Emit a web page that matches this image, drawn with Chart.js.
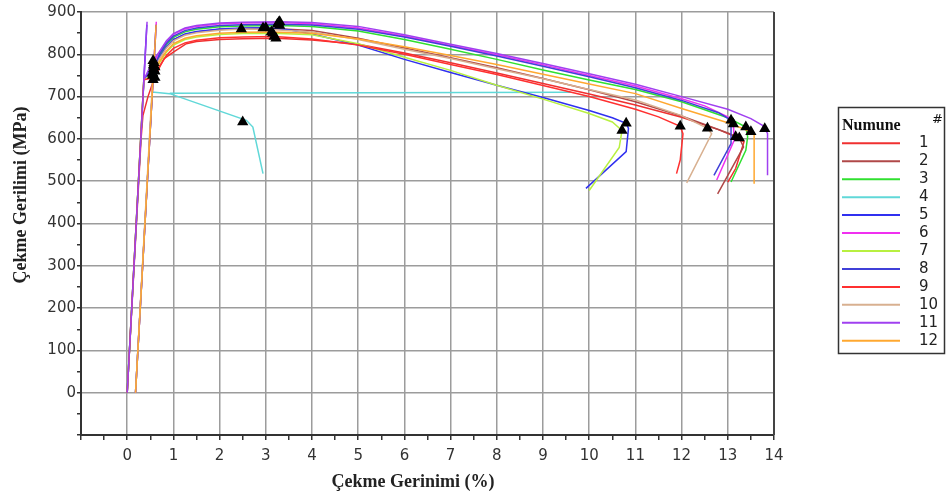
<!DOCTYPE html>
<html lang="tr">
<head>
  <meta charset="UTF-8">
  <title>Çekme Eğrileri</title>
  <script src="https://cdn.jsdelivr.net/npm/chart.js"></script>
  <style>
    body { margin: 0; padding: 0; background: #ffffff; }
    canvas { display: block; }
  </style>
</head>
<body>
  <canvas id="tensileChart" width="946" height="495"></canvas>

  <script>
    // Numune labels and colours
    const sampleLabels = ['1', '2', '3', '4', '5', '6', '7', '8', '9', '10', '11', '12'];
    const sampleColors = ['#f03030', '#b04848', '#30e030', '#60d8d8', '#3030f0', '#f030f0',
                          '#b8f040', '#4040d8', '#ff3030', '#d8b090', '#a040f0', '#ffa830'];

    // Strain (%) / stress (MPa), one pair per sample
    const strain1 = [0, 0.3, 0.34, 0.45, 0.56, 0.63, 0.8, 1.0, 1.28, 1.5, 2.0, 2.5, 3.22, 4, 5, 6, 7, 8, 9, 10, 11, 12, 12.8, 13.17, 13.35, 13.17, 13.0];
    const stress1 = [0, 600, 655, 700, 735, 755, 790, 805, 825, 830, 835, 837, 838, 834, 824, 803, 780, 756, 731, 706, 680, 651, 622, 605, 593, 530, 498];

    const strain2 = [0.18, 0.56, 0.57, 0.7, 0.85, 1.0, 1.25, 1.5, 2.0, 2.5, 2.94, 4, 5, 6, 7, 8, 9, 10, 11, 12, 13, 13.25, 13.34, 12.78];
    const stress2 = [0, 745, 765, 792, 817, 834, 847, 853, 859, 861, 862, 856, 838, 815, 792, 768, 743, 716, 688, 654, 614, 602, 581, 470];

    const strain3 = [0, 0.36, 0.57, 0.7, 0.85, 1.0, 1.25, 1.5, 2.0, 2.5, 3.3, 4, 5, 6, 7, 8, 9, 10, 11, 12, 13, 13.39, 13.43, 13.39, 13.07];
    const stress3 = [0, 740, 775, 798, 823, 840, 853, 859, 865, 867, 868, 866, 855, 835, 812, 788, 763, 739, 717, 688, 650, 628, 605, 573, 498];

    // sample 4 broke early; the flat part at ~710 MPa is a separate run of points
    const strain4 = [0.18, 0.544, 0.59, 0.92, 2.58, 2.72, 2.94, 2.94, 0.92, 9.6];
    const stress4 = [0, 710, 710, 707, 644, 628, 518, null, 708, 710];

    const strain5 = [0, 0.425, 0.36, 0.58, 0.7, 0.85, 1.0, 1.25, 1.5, 2.0, 2.5, 3.0, 3.5, 4, 5, 6, 7, 8, 9, 10, 10.5, 10.8, 10.85, 10.8, 9.93];
    const stress5 = [0, 870, 740, 772, 793, 818, 835, 848, 854, 860, 862, 863, 858, 848, 822, 788, 757, 727, 698, 667, 650, 637, 625, 570, 483];

    const strain6 = [0.18, 0.63, 0.56, 0.58, 0.7, 0.85, 1.0, 1.25, 1.5, 2.0, 2.5, 3.28, 4, 5, 6, 7, 8, 9, 10, 11, 12, 12.5, 13.0, 13.12, 13.14, 12.76];
    const stress6 = [0, 877, 745, 780, 805, 830, 847, 860, 866, 872, 874, 875, 872, 862, 843, 821, 799, 775, 750, 725, 695, 678, 652, 635, 597, 503];

    const strain7 = [0, 0.36, 0.55, 0.7, 0.85, 1.0, 1.25, 1.5, 2.0, 2.5, 3.15, 4, 5, 6, 7, 8, 9, 10, 10.5, 10.71, 10.65, 10.0];
    const stress7 = [0, 740, 750, 780, 805, 822, 835, 841, 847, 849, 850, 846, 825, 793, 762, 727, 694, 660, 640, 620, 580, 478];

    const strain8 = [0.18, 0.626, 0.56, 0.6, 0.7, 0.85, 1.0, 1.25, 1.5, 2.0, 2.5, 3.25, 4, 5, 6, 7, 8, 9, 10, 11, 12, 12.8, 13.07, 13.07, 12.7];
    const stress8 = [0, 870, 745, 770, 801, 826, 843, 856, 862, 868, 870, 871, 869, 859, 841, 819, 796, 772, 747, 721, 691, 662, 644, 589, 514];

    const strain9 = [0, 0.36, 0.6, 0.7, 0.85, 1.0, 1.25, 1.5, 2.0, 2.5, 3.18, 4, 5, 6, 7, 8, 9, 10, 11, 11.5, 11.97, 12.03, 11.97, 11.89];
    const stress9 = [0, 740, 745, 772, 797, 814, 827, 833, 839, 841, 842, 836, 822, 800, 776, 752, 726, 700, 670, 652, 630, 612, 550, 518];

    const strain10 = [0.18, 0.55, 0.55, 0.7, 0.85, 1.0, 1.25, 1.5, 2.0, 2.47, 3.0, 4, 5, 6, 7, 8, 9, 10, 11, 12, 12.56, 12.65, 12.11];
    const stress10 = [0, 740, 755, 790, 815, 832, 845, 851, 857, 860, 859, 853, 835, 812, 790, 766, 742, 717, 692, 655, 625, 612, 496];

    const strain11 = [0, 0.43, 0.36, 0.56, 0.7, 0.85, 1.0, 1.25, 1.5, 2.0, 2.5, 3.3, 4, 5, 6, 7, 8, 9, 10, 11, 12, 13, 13.5, 13.75, 13.8, 13.86, 13.86];
    const stress11 = [0, 877, 740, 785, 807, 832, 849, 862, 868, 874, 876, 877, 875, 866, 846, 824, 802, 778, 754, 729, 700, 670, 648, 632, 624, 613, 514];

    const strain12 = [0.18, 0.626, 0.56, 0.6, 0.7, 0.85, 1.0, 1.25, 1.5, 2.0, 2.5, 3.12, 4, 5, 6, 7, 8, 9, 10, 11, 12, 13, 13.5, 13.57, 13.57];
    const stress12 = [0, 870, 745, 760, 783, 808, 825, 838, 844, 850, 852, 853, 850, 836, 818, 797, 776, 753, 730, 707, 672, 638, 617, 610, 494];

    const strains = [strain1, strain2, strain3, strain4, strain5, strain6, strain7, strain8, strain9, strain10, strain11, strain12];
    const stresses = [stress1, stress2, stress3, stress4, stress5, stress6, stress7, stress8, stress9, stress10, stress11, stress12];

    // Black triangles: yield, tensile strength, fracture
    const markerStrain = [0.56, 0.57, 0.57, 0.58, 0.58, 0.55, 0.55, 0.6, 0.6, 0.55, 0.56, 0.6,
                          3.22, 2.94, 3.3, 3.0, 3.28, 3.15, 3.25, 3.18, 2.47, 3.3, 3.12,
                          13.17, 13.25, 13.39, 2.5, 10.8, 13.12, 10.71, 13.07, 11.97, 12.56, 13.8, 13.5];
    const markerStress = [740, 765, 775, 772, 780, 750, 755, 770, 745, 755, 785, 760,
                          838, 862, 868, 863, 875, 850, 871, 842, 860, 877, 853,
                          605, 602, 628, 640, 637, 635, 620, 644, 630, 625, 624, 617];

    const xTitle = 'Çekme Gerinimi (%)';
    const yTitle = 'Çekme Gerilimi (MPa)';

    const toPoints = (xs, ys) => xs.map((x, i) => ({ x: x, y: ys[i] }));

    // later samples are painted over earlier ones
    const curveSets = sampleLabels.map((label, i) => ({
      type: 'line',
      label: label,
      data: toPoints(strains[i], stresses[i]),
      borderColor: sampleColors[i],
      backgroundColor: sampleColors[i],
      borderWidth: 1.5,
      pointRadius: 0,
      tension: 0,
      spanGaps: false,
      fill: false,
      order: sampleLabels.length - i
    }));

    const markerSet = {
      type: 'scatter',
      label: 'markers',
      data: toPoints(markerStrain, markerStress),
      pointStyle: 'triangle',
      pointRadius: 6.5,
      backgroundColor: '#000000',
      borderColor: '#000000',
      borderWidth: 0,
      order: -1
    };

    // right-hand border of the plot box + axis titles (placed like the original, a bit off-centre)
    const frameAndTitles = {
      id: 'frameAndTitles',
      afterDraw(chart) {
        const { ctx, chartArea } = chart;
        ctx.save();
        ctx.strokeStyle = '#444';
        ctx.lineWidth = 2;
        ctx.beginPath();
        ctx.moveTo(chartArea.right, chartArea.top);
        ctx.lineTo(chartArea.right, chartArea.bottom);
        ctx.stroke();

        ctx.fillStyle = '#222';
        ctx.font = 'bold 18px "Liberation Serif"';
        ctx.textAlign = 'center';
        ctx.textBaseline = 'middle';
        ctx.fillText(xTitle, 413, 482);
        ctx.translate(21, 195);
        ctx.rotate(-Math.PI / 2);
        ctx.fillText(yTitle, 0, 0);
        ctx.restore();
      }
    };

    // boxed legend with "Numune" and "#"
    const numuneLegend = {
      id: 'numuneLegend',
      afterDraw(chart) {
        const ctx = chart.ctx;
        const left = 838, top = 107, bottom = 353;
        ctx.save();
        ctx.strokeStyle = '#333';
        ctx.lineWidth = 1.5;
        ctx.strokeRect(left + 0.5, top + 0.5, 106, bottom - top);
        ctx.fillStyle = '#111';
        ctx.textBaseline = 'middle';
        ctx.font = 'bold 16px "Liberation Serif"';
        ctx.fillText('Numune', left + 4, 126);
        ctx.font = '13px "DejaVu Sans"';
        ctx.fillText('#', 932, 120);
        ctx.font = '15px "DejaVu Sans"';
        sampleLabels.forEach((label, i) => {
          const y = 143.3 + i * 17.95;
          ctx.strokeStyle = sampleColors[i];
          ctx.lineWidth = 2;
          ctx.beginPath();
          ctx.moveTo(842, y);
          ctx.lineTo(900, y);
          ctx.stroke();
          ctx.fillStyle = '#222';
          ctx.fillText(label, 919, y);
        });
        ctx.restore();
      }
    };

    new Chart(document.getElementById('tensileChart').getContext('2d'), {
      type: 'line',
      data: { datasets: [markerSet].concat(curveSets) },
      options: {
        responsive: false,
        animation: false,
        layout: { padding: { left: 0, right: 172, top: 12, bottom: 0 } },
        plugins: {
          legend: { display: false },
          tooltip: { enabled: false }
        },
        scales: {
          x: {
            type: 'linear',
            min: -1,
            max: 14,
            afterFit: (scale) => { scale.height = 60; },
            ticks: {
              stepSize: 0.5,
              autoSkip: false,
              maxRotation: 0,
              padding: 7,
              color: '#333',
              font: { family: 'DejaVu Sans', size: 15 },
              callback: (v) => (v >= 0 && v % 1 === 0) ? v : ''
            },
            grid: {
              color: (c) => (c.tick && c.tick.value % 1 === 0) ? '#9c9c9c' : 'rgba(0,0,0,0)',
              lineWidth: 1.5,
              tickColor: '#333',
              tickLength: 5,
              tickWidth: 1.5
            },
            border: { color: '#333', width: 2 }
          },
          y: {
            type: 'linear',
            min: -100,
            max: 900,
            afterFit: (scale) => { scale.width = 81; },
            ticks: {
              stepSize: 50,
              autoSkip: false,
              padding: 1,
              color: '#333',
              font: { family: 'DejaVu Sans', size: 15 },
              callback: (v) => (v >= 0 && v % 100 === 0) ? v : ''
            },
            grid: {
              color: (c) => (c.tick && c.tick.value % 100 === 0) ? '#9c9c9c' : 'rgba(0,0,0,0)',
              lineWidth: 1.5,
              tickColor: '#333',
              tickLength: 4,
              tickWidth: 1.5
            },
            border: { color: '#333', width: 2 }
          }
        }
      },
      plugins: [frameAndTitles, numuneLegend]
    });
  </script>
</body>
</html>
